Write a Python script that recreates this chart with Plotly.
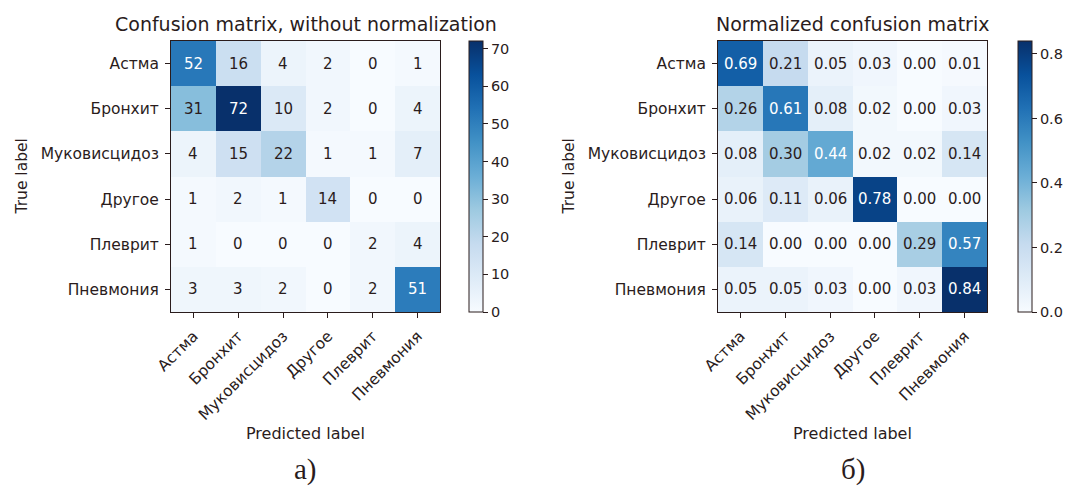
import plotly.graph_objects as go

labels = ["Астма", "Бронхит", "Муковисцидоз", "Другое", "Плеврит", "Пневмония"]
counts = [
    [52, 16, 4, 2, 0, 1],
    [31, 72, 10, 2, 0, 4],
    [4, 15, 22, 1, 1, 7],
    [1, 2, 1, 14, 0, 0],
    [1, 0, 0, 0, 2, 4],
    [3, 3, 2, 0, 2, 51],
]
normed = [
    [0.69, 0.21, 0.05, 0.03, 0.00, 0.01],
    [0.26, 0.61, 0.08, 0.02, 0.00, 0.03],
    [0.08, 0.30, 0.44, 0.02, 0.02, 0.14],
    [0.06, 0.11, 0.06, 0.78, 0.00, 0.00],
    [0.14, 0.00, 0.00, 0.00, 0.29, 0.57],
    [0.05, 0.05, 0.03, 0.00, 0.03, 0.84],
]
titles = ["Confusion matrix, without normalization", "Normalized confusion matrix"]
panel_letters = ["a)", "б)"]
count_ticks = [0, 10, 20, 30, 40, 50, 60, 70]
norm_ticks = [0.0, 0.2, 0.4, 0.6, 0.8]

W, H = 1069, 488
blues = ["#f7fbff", "#deebf7", "#c6dbef", "#9ecae1", "#6baed6",
         "#4292c6", "#2171b5", "#08519c", "#08306b"]
cscale = [[i / 8, c] for i, c in enumerate(blues)]
TXT = "#2a1c1c"
FONT = "DejaVu Sans"

def px(x):
    return x / W

def py(y):
    return 1 - y / H

panels = [
    dict(data=counts, fmt="{:d}", x0=171, x1=440, cbx=469, ticks=count_ticks, tickfmt="d"),
    dict(data=normed, fmt="{:.2f}", x0=718, x1=987, cbx=1018, ticks=norm_ticks, tickfmt=".1f"),
]
top, bottom = 41, 312

fig = go.Figure()
annotations = []
idx = list(range(len(labels)))
for k, p in enumerate(panels):
    sfx = "" if k == 0 else "2"
    zmax = max(max(r) for r in p["data"])
    fig.add_trace(go.Heatmap(
        z=p["data"], x=idx, y=idx, xaxis="x" + sfx, yaxis="y" + sfx,
        colorscale=cscale, zmin=0, zmax=zmax, hoverinfo="skip",
        colorbar=dict(
            x=px(p["cbx"]), xanchor="left", xpad=0, thickness=14,
            lenmode="pixels", len=bottom - top, y=py((top + bottom) / 2), yanchor="middle", ypad=0,
            outlinewidth=1, outlinecolor=TXT, tickvals=p["ticks"], tickformat=p["tickfmt"],
            ticks="outside", ticklen=5, tickcolor=TXT, tickfont=dict(size=14.5, color=TXT, family=FONT),
        ),
    ))
    thresh = zmax / 2
    for i, row in enumerate(p["data"]):
        for j, v in enumerate(row):
            annotations.append(dict(
                x=j, y=i, xref="x" + sfx, yref="y" + sfx, text=p["fmt"].format(v), showarrow=False,
                font=dict(size=15, family=FONT, color="white" if v > thresh else TXT),
            ))
    axis_common = dict(showgrid=False, zeroline=False, showline=True, linecolor=TXT, linewidth=1,
                       mirror=True, ticks="outside", ticklen=5, tickcolor=TXT, ticklabelstandoff=3,
                       tickfont=dict(size=15.5, color=TXT, family=FONT), tickvals=idx, ticktext=labels)
    fig.layout["xaxis" + sfx] = dict(axis_common, domain=[px(p["x0"]), px(p["x1"])], range=[-0.5, 5.5],
                                     tickangle=-45, anchor="y" + sfx)
    fig.layout["yaxis" + sfx] = dict(axis_common, domain=[py(bottom), py(top)], range=[5.5, -0.5],
                                     anchor="x" + sfx)
    cx = (p["x0"] + p["x1"]) / 2
    annotations.append(dict(x=px(cx), y=py(24), xref="paper", yref="paper", text=titles[k],
                            xanchor="center", yanchor="middle",
                            showarrow=False, font=dict(size=19, color=TXT, family=FONT)))
    annotations.append(dict(x=px(p["x0"] - 150), y=py((top + bottom) / 2), xref="paper", yref="paper",
                            text="True label", textangle=-90, showarrow=False,
                            xanchor="center", yanchor="middle",
                            font=dict(size=15.5, color=TXT, family=FONT)))
    annotations.append(dict(x=px(cx), y=py(433), xref="paper", yref="paper",
                            text="Predicted label", showarrow=False, xanchor="center", yanchor="middle",
                            font=dict(size=16, color=TXT, family=FONT)))
    annotations.append(dict(x=px(cx), y=py(469), xref="paper", yref="paper",
                            text=panel_letters[k], showarrow=False, xanchor="center", yanchor="middle",
                            font=dict(size=29, color=TXT, family="Liberation Serif")))

fig.update_layout(width=W, height=H, margin=dict(l=0, r=0, t=0, b=0, autoexpand=False),
                  paper_bgcolor="white", plot_bgcolor="white", annotations=annotations, showlegend=False)
fig.write_html("out.html", config={"displayModeBar": False},
               post_script="document.body.style.margin='0';document.body.style.padding='0';")
